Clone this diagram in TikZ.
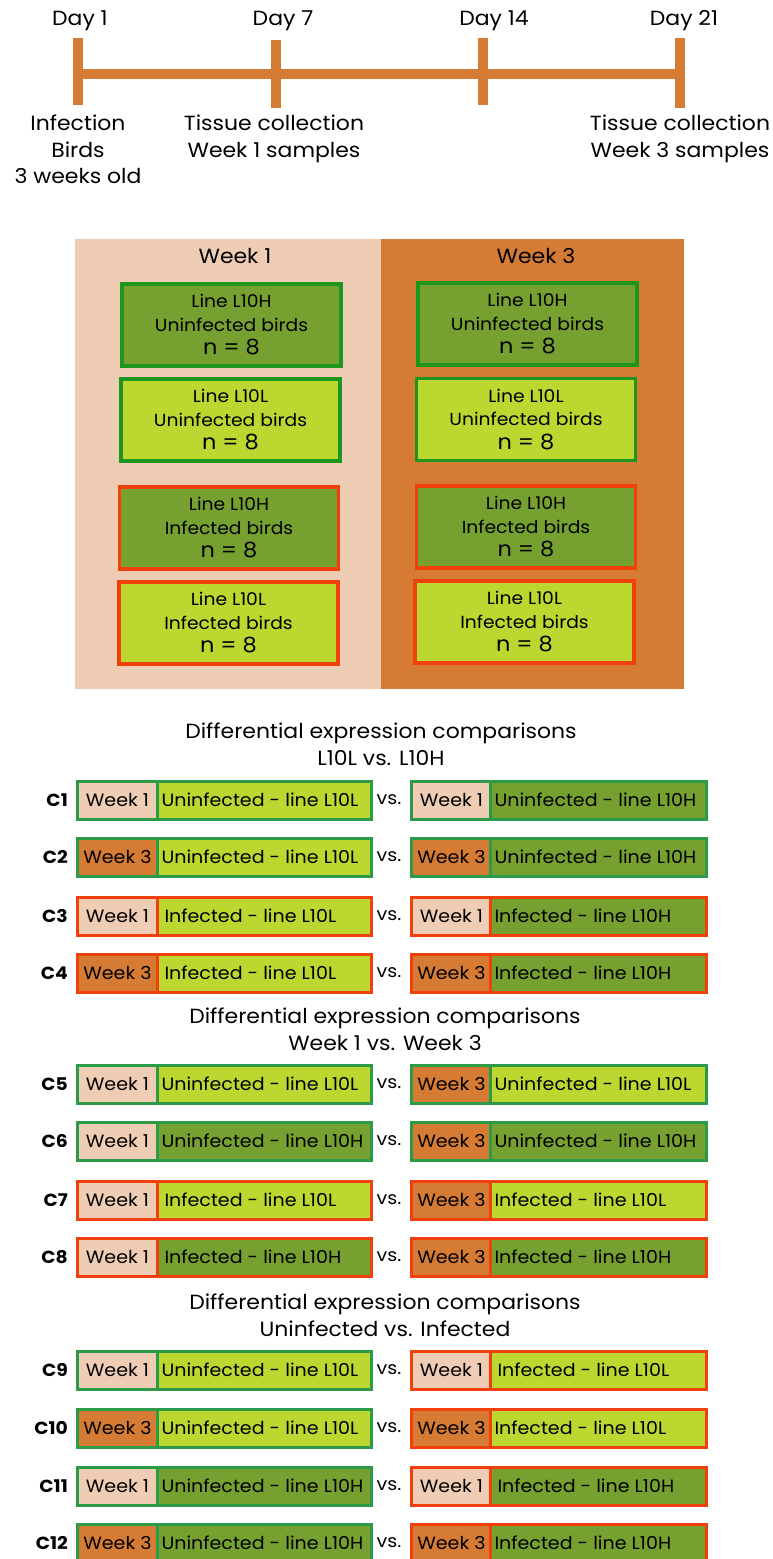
\documentclass[tikz,border=0pt]{standalone}
\usepackage{fontspec}
\setmainfont{Poppins}[FakeStretch=1.07]
\definecolor{peach}{RGB}{239,205,180}
\definecolor{orng}{RGB}{214,123,51}
\definecolor{dgreen}{RGB}{118,160,48}
\definecolor{lgreen}{RGB}{189,215,49}
\definecolor{gborder}{RGB}{30,150,30}
\definecolor{rgborder}{RGB}{44,155,72}
\definecolor{rborder}{RGB}{242,64,12}
\definecolor{tl}{RGB}{214,123,51}
\tikzset{
  lbl/.style={font=\fontsize{20.5}{26.5}\selectfont, align=center, inner sep=0pt, text=black},
  tick/.style={draw=tl, line width=10pt},
  panelbox/.style={rectangle, line width=3.3pt, minimum width=219pt, minimum height=82pt, align=center,
     font=\fontsize{17.5}{23.5}\selectfont, inner sep=0pt},
  cellw/.style={rectangle, line width=3pt, minimum width=80pt, minimum height=38pt, anchor=west, inner sep=0pt,
     font=\fontsize{17.8}{20}\selectfont},
  cellm/.style={rectangle, line width=3pt, minimum height=38pt, anchor=west, inner sep=0pt,
     font=\fontsize{17.8}{20}\selectfont},
  clab/.style={anchor=east, font=\bfseries\fontsize{17.5}{20}\selectfont, inner sep=0pt},
  vslab/.style={font=\fontsize{17.8}{20}\selectfont, inner sep=0pt},
}
\newcommand{\comprowx}[7]{%
  \node[cellw, fill=#3, draw=#7] (#1wl) at (76,#2) {#4};
  \node[cellm, fill=#5, draw=#7, minimum width=214pt] (#1ml) at (156,#2) {\makebox[206pt][l]{#6}};
}
\newcommand{\comprowy}[6]{%
  \node[cellw, fill=#2, draw=#6] (#1wr) at (410,\rowy) {#3};
  \node[cellm, fill=#4, draw=#6, minimum width=216pt] (#1mr) at (489,\rowy) {\makebox[208pt][l]{#5}};
  \node[clab] (#1lab) at (68,\rowy) {#1};
  \node[vslab] (#1vs) at (389,\rowy) {vs.};
}
\newcommand{\nbig}{\fontsize{21}{23.5}\selectfont n = 8}
\begin{document}
\begin{tikzpicture}[x=1pt,y=-1pt]
\useasboundingbox (0,0) rectangle (773,1559);
\fill[white] (0,0) rectangle (773,1559);

% timeline
\coordinate (t1) at (78,74);
\coordinate (t7) at (276,74);
\coordinate (t14) at (483,74);
\coordinate (t21) at (680,74);
\draw[tick] (t1) -- (t21);
\draw[tick] (78,38) -- (78,105);
\draw[tick] (276,40) -- (276,108);
\draw[tick] (483,38) -- (483,105);
\draw[tick] (680,38) -- (680,108);
\node[lbl] (d1) at (80,21) {Day 1};
\node[lbl] (d7) at (283,21) {Day 7};
\node[lbl] (d14) at (494,21) {Day 14};
\node[lbl] (d21) at (684,21) {Day 21};
\node[lbl, anchor=north] (inf) at (78,115) {Infection\\Birds\\3 weeks old};
\node[lbl, anchor=north] (tc1) at (274,115) {Tissue collection\\Week 1 samples};
\node[lbl, anchor=north] (tc3) at (680,115) {Tissue collection\\Week 3 samples};

% panels
\fill[peach] (75,239) rectangle (381,689);
\fill[orng] (381,239) rectangle (684,689);
\node[lbl] (w1) at (235,256) {Week 1};
\node[lbl] (w3) at (536,256) {Week 3};

\node[panelbox, fill=dgreen, draw=gborder] (b1) at (231.5,325) {Line L10H\\Uninfected birds\\{\nbig}};
\node[panelbox, fill=lgreen, draw=gborder] (b2) at (230.5,420) {Line L10L\\Uninfected birds\\{\nbig}};
\node[panelbox, fill=dgreen, draw=rborder] (b3) at (229,528) {Line L10H\\Infected birds\\{\nbig}};
\node[panelbox, fill=lgreen, draw=rborder] (b4) at (228.5,623) {Line L10L\\Infected birds\\{\nbig}};
\node[panelbox, fill=dgreen, draw=gborder] (b5) at (527.5,324) {Line L10H\\Uninfected birds\\{\nbig}};
\node[panelbox, fill=lgreen, draw=gborder] (b6) at (526,419.5) {Line L10L\\Uninfected birds\\{\nbig}};
\node[panelbox, fill=dgreen, draw=rborder] (b7) at (526,527) {Line L10H\\Infected birds\\{\nbig}};
\node[panelbox, fill=lgreen, draw=rborder] (b8) at (524.5,622) {Line L10L\\Infected birds\\{\nbig}};

% section titles
\node[lbl] (s1) at (381,744) {Differential expression comparisons\\L10L vs. L10H};
\node[lbl] (s2) at (385,1029) {Differential expression comparisons\\Week 1 vs. Week 3};
\node[lbl] (s3) at (385,1315) {Differential expression comparisons\\Uninfected vs. Infected};

% rows
\def\rowy{800}
\comprowx{C1}{800}{peach}{Week 1}{lgreen}{Uninfected - line L10L}{rgborder}
\comprowy{C1}{peach}{Week 1}{dgreen}{Uninfected - line L10H}{rgborder}
\def\rowy{857}
\comprowx{C2}{857}{orng}{Week 3}{lgreen}{Uninfected - line L10L}{rgborder}
\comprowy{C2}{orng}{Week 3}{dgreen}{Uninfected - line L10H}{rgborder}
\def\rowy{916}
\comprowx{C3}{916}{peach}{Week 1}{lgreen}{\hspace*{3pt}Infected - line L10L}{rborder}
\comprowy{C3}{peach}{Week 1}{dgreen}{Infected - line L10H}{rborder}
\def\rowy{973}
\comprowx{C4}{973}{orng}{Week 3}{lgreen}{\hspace*{3pt}Infected - line L10L}{rborder}
\comprowy{C4}{orng}{Week 3}{dgreen}{Infected - line L10H}{rborder}

\def\rowy{1084}
\comprowx{C5}{1084}{peach}{Week 1}{lgreen}{Uninfected - line L10L}{rgborder}
\comprowy{C5}{orng}{Week 3}{lgreen}{Uninfected - line L10L}{rgborder}
\def\rowy{1141}
\comprowx{C6}{1141}{peach}{Week 1}{dgreen}{Uninfected - line L10H}{rgborder}
\comprowy{C6}{orng}{Week 3}{dgreen}{Uninfected - line L10H}{rgborder}
\def\rowy{1200}
\comprowx{C7}{1200}{peach}{Week 1}{lgreen}{\hspace*{3pt}Infected - line L10L}{rborder}
\comprowy{C7}{orng}{Week 3}{lgreen}{Infected - line L10L}{rborder}
\def\rowy{1257}
\comprowx{C8}{1257}{peach}{Week 1}{dgreen}{\hspace*{3pt}Infected - line L10H}{rborder}
\comprowy{C8}{orng}{Week 3}{dgreen}{Infected - line L10H}{rborder}

\def\rowy{1370}
\comprowx{C9}{1370}{peach}{Week 1}{lgreen}{Uninfected - line L10L}{rgborder}
\comprowy{C9}{peach}{Week 1}{lgreen}{\hspace*{3pt}Infected - line L10L}{rborder}
\def\rowy{1428}
\comprowx{C10}{1428}{orng}{Week 3}{lgreen}{Uninfected - line L10L}{rgborder}
\comprowy{C10}{orng}{Week 3}{lgreen}{Infected - line L10L}{rborder}
\def\rowy{1486}
\comprowx{C11}{1486}{peach}{Week 1}{dgreen}{Uninfected - line L10H}{rgborder}
\comprowy{C11}{peach}{Week 1}{dgreen}{\hspace*{3pt}Infected - line L10H}{rborder}
\def\rowy{1543}
\comprowx{C12}{1543}{orng}{Week 3}{dgreen}{Uninfected - line L10H}{rgborder}
\comprowy{C12}{orng}{Week 3}{dgreen}{Infected - line L10H}{rborder}
\end{tikzpicture}
\end{document}
